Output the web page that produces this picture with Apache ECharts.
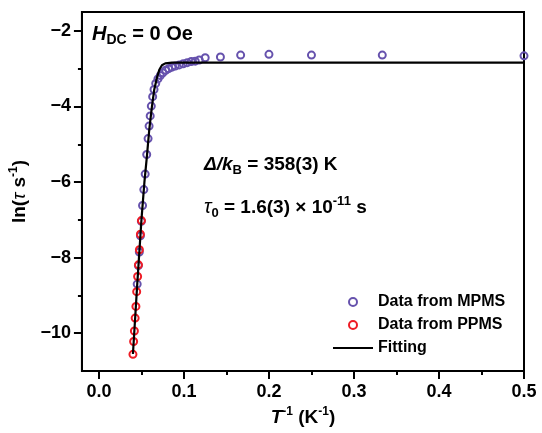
<!DOCTYPE html>
<html>
<head>
<meta charset="utf-8">
<script src="https://cdn.jsdelivr.net/npm/echarts@6/dist/echarts.min.js"></script>
<style>
html,body{margin:0;padding:0;background:#fff;}
#chart{width:542px;height:433px;}
</style>
</head>
<body>
<div id="chart"></div>
<script>
// ---- data ----
var mpmsX = [0.0450, 0.0464, 0.0475, 0.0488, 0.0499, 0.0513, 0.0528, 0.0544, 0.0562, 0.0578, 0.0590, 0.0603, 0.0616, 0.0632, 0.0648, 0.0668, 0.0694, 0.0722, 0.0752, 0.0785, 0.0820, 0.0859, 0.0898, 0.0945, 0.0992, 0.1039, 0.1086, 0.1133, 0.1180, 0.1250, 0.1429, 0.1667, 0.2000, 0.2500, 0.3333, 0.5000];
var mpmsY = [-8.70, -8.21, -7.85, -7.42, -7.04, -6.62, -6.20, -5.79, -5.27, -4.85, -4.52, -4.25, -3.99, -3.74, -3.55, -3.39, -3.27, -3.18, -3.11, -3.04, -3.00, -2.96, -2.93, -2.90, -2.87, -2.84, -2.81, -2.80, -2.77, -2.71, -2.69, -2.64, -2.62, -2.64, -2.64, -2.66];
var ppmsX = [0.0400, 0.0408, 0.0417, 0.0426, 0.0435, 0.0444, 0.0455, 0.0465, 0.0476, 0.0488, 0.0500];
var ppmsY = [-10.56, -10.22, -9.94, -9.60, -9.29, -8.90, -8.50, -8.19, -7.79, -7.38, -7.02];
var fitX = [0.0400, 0.0450, 0.0500, 0.0535, 0.0565, 0.0592, 0.0624, 0.0651, 0.0682, 0.0710, 0.0741, 0.0780, 0.0860, 0.5000];
var fitY = [-10.55, -8.72, -7.00, -6.00, -5.30, -4.61, -3.99, -3.55, -3.24, -3.03, -2.91, -2.86, -2.84, -2.84];
var xMajorTicks = [0, 0.1, 0.2, 0.3, 0.4, 0.5];
var xMinorTicks = [0.05, 0.15, 0.25, 0.35, 0.45];
var yMajorTicks = [-10, -8, -6, -4, -2];
var yMinorTicks = [-9, -7, -5, -3];
var seriesNames = ['Data from MPMS', 'Data from PPMS', 'Fitting'];

function pairs(xs, ys) { return xs.map(function (x, i) { return [x, ys[i]]; }); }

var FONT = 'Liberation Sans, Arial, sans-serif';
var chart = echarts.init(document.getElementById('chart'), null, {renderer: 'canvas'});

var axisCommon = {
  axisLine: {show: true, onZero: false, lineStyle: {color: '#000', width: 2}},
  splitLine: {show: false}
};

var option = {
  animation: false,
  backgroundColor: '#fff',
  grid: {left: 80, right: 18, top: 12, bottom: 62, show: true, borderColor: '#000', borderWidth: 2, backgroundColor: 'transparent'},
  xAxis: [
    Object.assign({}, axisCommon, {
      type: 'value', min: -0.02, max: 0.5, position: 'bottom',
      axisTick: {show: true, customValues: xMajorTicks, length: 8, inside: false, lineStyle: {color: '#000', width: 2}},
      axisLabel: {show: true, customValues: xMajorTicks, margin: 12, color: '#000', fontFamily: FONT, fontWeight: 'bold', fontSize: 18,
        formatter: function (v) { return v.toFixed(1); }},
      name: '{i|T}{sup|-1}{a| (K}{sup|-1}{a|)}',
      nameLocation: 'middle', nameGap: 34,
      nameTextStyle: {
        rich: {
          a: {fontFamily: FONT, fontWeight: 'bold', fontSize: 19, color: '#000', lineHeight: 24, verticalAlign: 'middle'},
          i: {fontFamily: FONT, fontWeight: 'bold', fontStyle: 'italic', fontSize: 19, color: '#000', lineHeight: 24, verticalAlign: 'middle'},
          sup: {fontFamily: FONT, fontWeight: 'bold', fontSize: 12, color: '#000', lineHeight: 24, verticalAlign: 'top'}
        }
      }
    }),
    {
      type: 'value', min: -0.02, max: 0.5, position: 'bottom',
      axisLine: {show: false, onZero: false}, splitLine: {show: false}, axisLabel: {show: false},
      axisTick: {show: true, customValues: xMinorTicks, length: 4, lineStyle: {color: '#000', width: 2}}
    }
  ],
  yAxis: [
    Object.assign({}, axisCommon, {
      type: 'value', min: -11, max: -1.5, position: 'left',
      axisTick: {show: true, customValues: yMajorTicks, length: 8, lineStyle: {color: '#000', width: 2}},
      axisLabel: {show: true, customValues: yMajorTicks, margin: 11, color: '#000', fontFamily: FONT, fontWeight: 'bold', fontSize: 18,
        formatter: function (v) { return String(v).replace('-', '\u2212'); }},
      name: '{a|ln(}{i|\u03c4}{a| s}{sup|-1}{a|)}',
      nameLocation: 'middle', nameGap: 42, nameRotate: 90,
      nameTextStyle: {
        rich: {
          a: {fontFamily: FONT, fontWeight: 'bold', fontSize: 19, color: '#000', lineHeight: 24, verticalAlign: 'middle'},
          i: {fontFamily: FONT, fontStyle: 'italic', fontSize: 19, color: '#000', lineHeight: 24, verticalAlign: 'middle'},
          sup: {fontFamily: FONT, fontWeight: 'bold', fontSize: 12, color: '#000', lineHeight: 24, verticalAlign: 'top'}
        }
      }
    }),
    {
      type: 'value', min: -11, max: -1.5, position: 'left',
      axisLine: {show: false, onZero: false}, splitLine: {show: false}, axisLabel: {show: false},
      axisTick: {show: true, customValues: yMinorTicks, length: 4, lineStyle: {color: '#000', width: 2}}
    }
  ],
  legend: {
    orient: 'vertical', left: 328, top: 289, itemWidth: 40, itemHeight: 8, itemGap: 7, itemTextGap: 6,
    symbolKeepAspect: true,
    textStyle: {fontFamily: FONT, fontWeight: 'bold', fontSize: 16, color: '#000', lineHeight: 16},
    data: [
      {name: seriesNames[0]},
      {name: seriesNames[1]},
      {name: seriesNames[2], icon: 'path://M0,0L40,0L40,2.2L0,2.2Z', itemStyle: {color: '#000'}}
    ]
  },
  series: [
    {
      name: seriesNames[0], type: 'scatter', xAxisIndex: 0, yAxisIndex: 0,
      data: pairs(mpmsX, mpmsY), symbol: 'circle', symbolSize: 7, z: 2,
      itemStyle: {color: 'rgba(255,255,255,0)', borderColor: '#6652ad', borderWidth: 2, opacity: 1}
    },
    {
      name: seriesNames[1], type: 'scatter', xAxisIndex: 0, yAxisIndex: 0,
      data: pairs(ppmsX, ppmsY), symbol: 'circle', symbolSize: 7, z: 3,
      itemStyle: {color: 'rgba(255,255,255,0)', borderColor: '#ee1c25', borderWidth: 2, opacity: 1}
    },
    {
      name: seriesNames[2], type: 'line', xAxisIndex: 0, yAxisIndex: 0,
      data: pairs(fitX, fitY), symbol: 'none', z: 4,
      lineStyle: {color: '#000', width: 2.2}, itemStyle: {color: '#000'}
    }
  ],
  graphic: [
    {
      type: 'text', left: 92, top: 24, z: 10,
      style: {
        text: '{i|H}{sub|DC}{a| = 0 Oe}',
        rich: {
          i: {fontFamily: FONT, fontWeight: 'bold', fontStyle: 'italic', fontSize: 20, fill: '#000', lineHeight: 26, verticalAlign: 'middle'},
          sub: {fontFamily: FONT, fontWeight: 'bold', fontSize: 14, fill: '#000', lineHeight: 26, verticalAlign: 'bottom'},
          a: {fontFamily: FONT, fontWeight: 'bold', fontSize: 20, fill: '#000', lineHeight: 26, verticalAlign: 'middle'}
        }
      }
    },
    {
      type: 'text', left: 204, top: 155, z: 10,
      style: {
        text: '{i|\u0394/k}{sub|B}{a| = 358(3) K}',
        rich: {
          i: {fontFamily: FONT, fontWeight: 'bold', fontStyle: 'italic', fontSize: 19, fill: '#000', lineHeight: 25, verticalAlign: 'middle'},
          sub: {fontFamily: FONT, fontWeight: 'bold', fontSize: 13, fill: '#000', lineHeight: 25, verticalAlign: 'bottom'},
          a: {fontFamily: FONT, fontWeight: 'bold', fontSize: 19, fill: '#000', lineHeight: 25, verticalAlign: 'middle'}
        }
      }
    },
    {
      type: 'text', left: 204, top: 195, z: 10,
      style: {
        text: '{i|\u03c4}{sub|0}{a| = 1.6(3) \u00d7 10}{sup|-11}{a| s}',
        rich: {
          i: {fontFamily: FONT, fontStyle: 'italic', fontSize: 20, fill: '#000', lineHeight: 25, verticalAlign: 'middle'},
          sub: {fontFamily: FONT, fontWeight: 'bold', fontSize: 13, fill: '#000', lineHeight: 25, verticalAlign: 'bottom'},
          sup: {fontFamily: FONT, fontWeight: 'bold', fontSize: 13, fill: '#000', lineHeight: 25, verticalAlign: 'top'},
          a: {fontFamily: FONT, fontWeight: 'bold', fontSize: 19, fill: '#000', lineHeight: 25, verticalAlign: 'middle'}
        }
      }
    }
  ]
};
chart.setOption(option);
</script>
</body>
</html>
